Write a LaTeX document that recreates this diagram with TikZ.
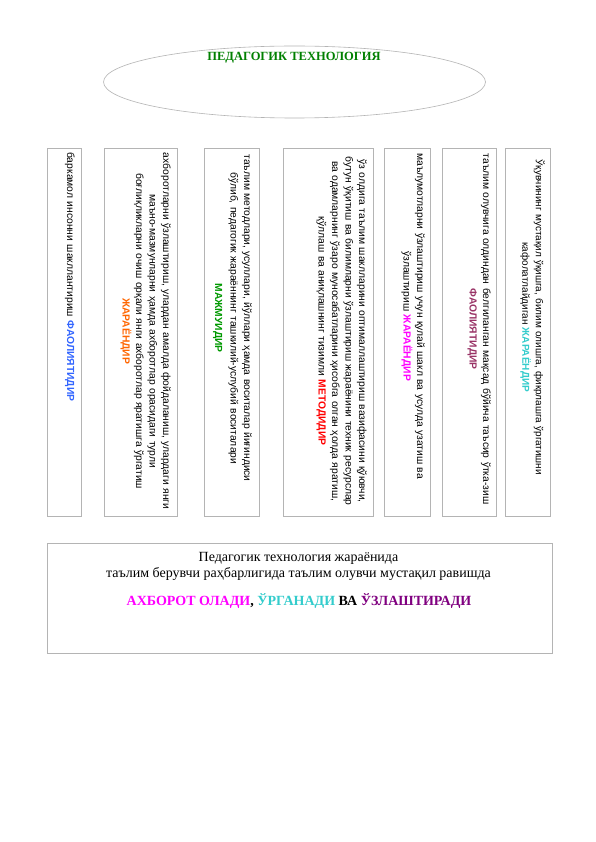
\documentclass[tikz,border=0pt]{standalone}
\usepackage{fontspec}
\setmainfont{Liberation Serif}
\setsansfont{Liberation Sans}
\usetikzlibrary{shapes.geometric,calc}
\definecolor{framegray}{HTML}{B4B4B4}
\definecolor{cblue}{HTML}{3366FF}
\definecolor{corange}{HTML}{FF6600}
\definecolor{cgreen}{HTML}{009900}
\definecolor{cred}{HTML}{FF0000}
\definecolor{cmagenta}{HTML}{FF00FF}
\definecolor{cmaroon}{HTML}{993366}
\definecolor{cturq}{HTML}{33CCCC}
\definecolor{ctitle}{HTML}{008000}
\definecolor{cpurple}{HTML}{800080}
\tikzset{
  colbox/.style={draw=framegray, line width=0.6pt, inner sep=0pt, outer sep=0pt,
    minimum height=368pt},
  coltext/.style={rotate=-90, anchor=north west, inner sep=0pt, text width=#1,
    align=center, font=\sffamily\fontsize{10.3}{13.5}\selectfont},
  coltext/.default=358pt,
}
\newcommand{\kwd}[2]{{\bfseries\color{#1}#2}}
\begin{document}
\begin{tikzpicture}[x=1pt,y=-1pt]
\useasboundingbox (0,0) rectangle (596,842);
\fill[white] (0,0) rectangle (596,842);

% ellipse with title
\node[draw=framegray, line width=0.6pt, ellipse, minimum width=382pt, minimum height=72pt, inner sep=0pt] (ell) at (294.5,82) {};
\node[font=\bfseries\fontsize{12.5}{14}\selectfont, text=ctitle, inner sep=0pt] (title) at (294,58) {ПЕДАГОГИК ТЕХНОЛОГИЯ};

% vertical boxes
\node[colbox, minimum width=34pt] (b1) at (64,332) {};
\node[colbox, minimum width=73pt] (b2) at (140.5,332) {};
\node[colbox, minimum width=55pt] (b3) at (231.5,332) {};
\node[colbox, minimum width=90pt] (b4) at (328,332) {};
\node[colbox, minimum width=46pt] (b5) at (407,332) {};
\node[colbox, minimum width=54pt] (b6) at (469,332) {};
\node[colbox, minimum width=45pt] (b7) at (527.5,332) {};

\node[coltext=360pt, align=left] (t1) at ($(b1.north east)+(-6,4)$)
  {баркамол инсонни шакллантириш \kwd{cblue}{ФАОЛИЯТИДИР}};
\node[coltext=358pt] (t2) at ($(b2.north east)+(-6,4)$)
  {ахборотларни ўзлаштириш, улардан амалда фойдаланиш, улардаги янги\\
   маъно-мазмунларни ҳамда ахборотлар орасидаги турли\\
   боғлиқликларни очиш орқали янги ахборотлар яратишга ўргатиш\\
   \kwd{corange}{ЖАРАЁНДИР}};
\node[coltext=332pt] (t3) at ($(b3.north east)+(-7,4)$)
  {таълим методлари, усуллари, йўллари ҳамда воситалар йиғиндиси\\
   бўлиб, педагогик жараённинг ташкилий-услубий воситалари\\[2pt]
   \kwd{cgreen}{МАЖМУИДИР}};
\node[coltext=358pt] (t4) at ($(b4.north east)+(-6,4)$)
  {ўз олдига таълим шаклларини оптималлаштириш вазифасини қўювчи,\\
   бутун ўқитиш ва билимларни ўзлаштириш жараёнини техник ресурслар\\
   ва одамларнинг ўзаро муносабатларини ҳисобга олган ҳолда яратиш,\\
   қўллаш ва аниқлашнинг тизимли \kwd{cred}{МЕТОДИДИР}};
\node[coltext=328pt] (t5) at ($(b5.north east)+(-5,4)$)
  {маълумотларни ўзлаштириш учун қулай шакл ва усулда узатиш ва\\
   ўзлаштириш \kwd{cmagenta}{ЖАРАЁНДИР}};
\node[coltext=354pt] (t6) at ($(b6.north east)+(-5,4)$)
  {таълим олувчига олдиндан белгиланган мақсад бўйича таъсир ўтка-зиш\\
   \kwd{cmaroon}{ФАОЛИЯТИДИР}};
\node[coltext=330pt, font=\sffamily\fontsize{10}{13.5}\selectfont] (t7) at ($(b7.north east)+(-5,4)$)
  {Ўқувчининг мустақил ўқишга, билим олишга, фикрлашга ўргатишни\\
   кафолатлайдиган \kwd{cturq}{ЖАРАЁНДИР}};

% bottom box
\node[draw=framegray, line width=0.6pt, minimum width=505pt, minimum height=110pt, inner sep=0pt] (bot) at (299.5,598) {};
\node[font=\fontsize{14}{16}\selectfont, align=center, inner sep=0pt, anchor=north] (bt1) at ($(bot.north)+(-1,9)$)
  {Педагогик технология жараёнида\\ таълим берувчи раҳбарлигида таълим олувчи мустақил равишда};
\node[font=\bfseries\fontsize{14}{16}\selectfont, inner sep=0pt] (bt2) at (299,601)
  {\color{cmagenta}АХБОРОТ ОЛАДИ\color{black}, \color{cturq}ЎРГАНАДИ \color{black}ВА \color{cpurple}ЎЗЛАШТИРАДИ};
\end{tikzpicture}
\end{document}
